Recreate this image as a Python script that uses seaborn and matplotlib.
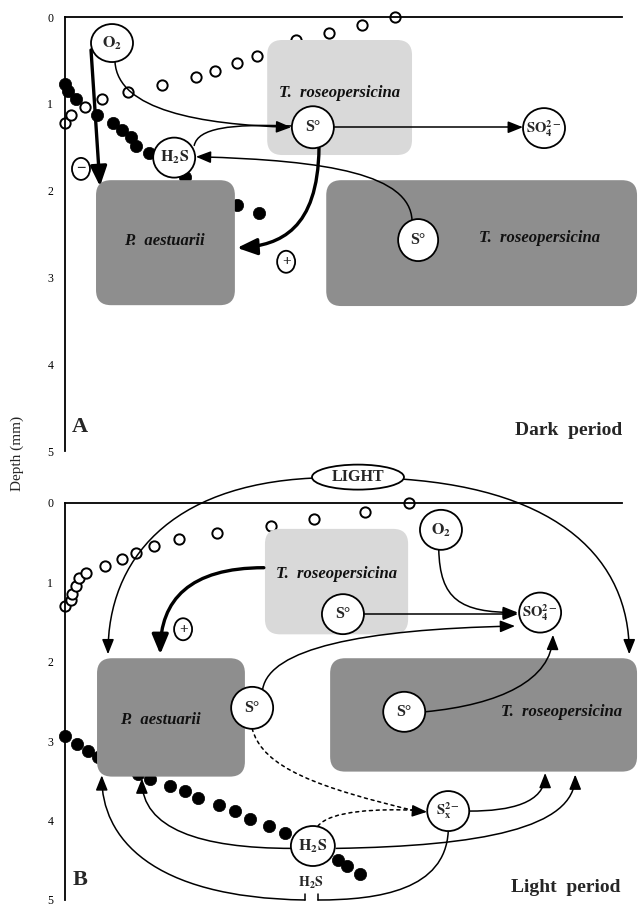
import numpy as np
import pandas as pd
import seaborn as sns
import matplotlib
matplotlib.use("Agg")
import matplotlib.pyplot as plt
from matplotlib.patches import FancyBboxPatch, Ellipse, FancyArrowPatch, ArrowStyle
from matplotlib.path import Path

# ---------------- data ----------------
depth_ticks = [0, 1, 2, 3, 4, 5]

# Panel A (dark period) profiles: x = relative concentration (0-100), y = depth (mm)
o2_dark_conc = [0, 1.1, 3.6, 6.6, 11.3, 17.4, 23.5, 26.9, 30.9, 34.5, 41.5, 47.4, 53.3, 59.2]
o2_dark_depth = [1.22, 1.13, 1.04, 0.94, 0.86, 0.78, 0.69, 0.62, 0.53, 0.45, 0.26, 0.18, 0.09, 0.0]
h2s_dark_conc = [0, 0.6, 2.0, 5.7, 8.6, 10.2, 11.8, 12.7, 15.1, 18.0, 21.5, 26.0, 30.9, 34.8]
h2s_dark_depth = [0.77, 0.85, 0.94, 1.13, 1.22, 1.30, 1.38, 1.49, 1.57, 1.67, 1.84, 2.02, 2.17, 2.26]

# Panel B (light period) profiles
o2_light_conc = [0, 1.1, 1.3, 2.0, 2.5, 3.8, 7.2, 10.2, 12.7, 15.9, 20.5, 27.3, 37.0, 44.7, 53.9, 61.8]
o2_light_depth = [1.30, 1.22, 1.14, 1.05, 0.95, 0.88, 0.79, 0.70, 0.63, 0.54, 0.45, 0.38, 0.29, 0.20, 0.11, 0.0]
h2s_light_conc = [0, 2.2, 4.1, 5.9, 8.4, 10.8, 13.1, 15.3, 18.9, 21.5, 23.9, 27.6, 30.5, 33.2,
                  36.6, 39.5, 42.2, 45.4, 49.0, 50.6, 53.0]
h2s_light_depth = [2.94, 3.03, 3.12, 3.20, 3.27, 3.35, 3.41, 3.47, 3.56, 3.63, 3.71, 3.80, 3.88, 3.98,
                   4.07, 4.15, 4.22, 4.35, 4.50, 4.57, 4.67]

panel_letters = ["A", "B"]
period_labels = ["Dark  period", "Light  period"]

# ---------------- style ----------------
sns.set_theme(style="white")
plt.rcParams["font.family"] = ["Liberation Serif", "DejaVu Serif"]
plt.rcParams["mathtext.fontset"] = "stix"

W, H = 638, 906
fig = plt.figure(figsize=(W / 100, H / 100), dpi=100)
axA = fig.add_axes([65 / W, 1 - 451 / H, 557 / W, 434 / H])
axB = fig.add_axes([65 / W, 1 - 900 / H, 557 / W, 397 / H])

LIGHTGRAY = "#d9d9d9"
DARKGRAY = "#8e8e8e"


def setup(ax):
    ax.set_xlim(0, 100)
    ax.set_ylim(5, 0)
    ax.set_yticks(depth_ticks)
    ax.set_yticklabels([str(t) for t in depth_ticks], fontsize=8.5)
    ax.set_xticks([])
    for s in ["right", "bottom"]:
        ax.spines[s].set_visible(False)
    for s in ["left", "top"]:
        ax.spines[s].set_color("black")
        ax.spines[s].set_linewidth(1.3)
    ax.tick_params(axis="y", direction="inout", length=5, width=1, pad=6, colors="black")
    ax.set_xlabel("")
    ax.set_ylabel("")
    ax.patch.set_alpha(0)


def scale(ax):
    bb = ax.get_window_extent()
    x0, x1 = ax.get_xlim()
    y0, y1 = ax.get_ylim()
    return bb.width / abs(x1 - x0), bb.height / abs(y1 - y0)


def box(ax, x0, y0, x1, y1, color, rpx=15):
    sx, sy = scale(ax)
    r = rpx / sx
    p = FancyBboxPatch((x0, y0), x1 - x0, y1 - y0,
                       boxstyle=f"round,pad=0,rounding_size={r}",
                       mutation_aspect=sx / sy, fc=color, ec="none",
                       zorder=3, clip_on=False)
    ax.add_patch(p)


def node(ax, x, y, label, wpx=42, hpx=40, fs=11.5, lw=1.3):
    sx, sy = scale(ax)
    e = Ellipse((x, y), wpx / sx, hpx / sy, fc="white", ec="black", lw=lw,
                zorder=5, clip_on=False)
    ax.add_patch(e)
    ax.text(x, y, label, ha="center", va="center", fontsize=fs, fontweight="bold",
            zorder=6, clip_on=False)


def curve(ax, pts, lw=1.1, head=True, ls="-", big=False):
    codes = {2: [Path.MOVETO, Path.LINETO],
             3: [Path.MOVETO, Path.CURVE3, Path.CURVE3],
             4: [Path.MOVETO, Path.CURVE4, Path.CURVE4, Path.CURVE4]}[len(pts)]
    if head:
        if big:
            st = ArrowStyle("-|>", head_length=12, head_width=5)
        else:
            st = ArrowStyle("-|>", head_length=9, head_width=3.6)
    else:
        st = ArrowStyle("-")
    p = FancyArrowPatch(path=Path(pts, codes), arrowstyle=st, mutation_scale=1,
                        lw=lw, color="black", linestyle=ls, zorder=4, clip_on=False)
    ax.add_patch(p)


def label(ax, x, y, txt, fs=12):
    ax.text(x, y, txt, ha="center", va="center", fontsize=fs, fontweight="bold",
            fontstyle="italic", zorder=6, clip_on=False, color="#111111")


# ---------------- profiles (seaborn) ----------------
for ax, ox, oy, hx, hy in [(axA, o2_dark_conc, o2_dark_depth, h2s_dark_conc, h2s_dark_depth),
                           (axB, o2_light_conc, o2_light_depth, h2s_light_conc, h2s_light_depth)]:
    df_o = pd.DataFrame({"conc": ox, "depth": oy})
    df_h = pd.DataFrame({"conc": hx, "depth": hy})
    sns.scatterplot(data=df_o, x="conc", y="depth", ax=ax, marker="o", s=55,
                    facecolor="white", edgecolor="black", linewidth=1.4, zorder=2, clip_on=False)
    sns.scatterplot(data=df_h, x="conc", y="depth", ax=ax, marker="o", s=78,
                    color="black", edgecolor="black", linewidth=0.5, zorder=2, clip_on=False)
    setup(ax)

# ---------------- Panel A: dark period ----------------
box(axA, 36.3, 0.265, 62.3, 1.59, LIGHTGRAY)
box(axA, 5.57, 1.88, 30.5, 3.32, DARKGRAY)
box(axA, 46.9, 1.88, 102.7, 3.33, DARKGRAY)
label(axA, 49.3, 0.876, "T.  roseopersicina")
label(axA, 17.8, 2.58, "P.  aestuarii")
label(axA, 85.2, 2.55, "T.  roseopersicina")

curve(axA, [(4.67, 0.38), (6.28, 1.95)], lw=2.4, big=True)
curve(axA, [(8.98, 0.52), (9.52, 1.07), (24.2, 1.24), (40.6, 1.27)])
curve(axA, [(23.2, 1.48), (23.9, 1.28), (29.6, 1.23), (40.6, 1.255)], head=False)
curve(axA, [(62.3, 2.34), (61.9, 1.82), (47.6, 1.65), (23.5, 1.61)])
curve(axA, [(45.6, 1.51), (45.4, 2.45), (38.6, 2.63), (30.9, 2.66)], lw=2.4, big=True)
curve(axA, [(48.3, 1.27), (82.2, 1.27)])

node(axA, 8.44, 0.30, r"$\mathbf{O_2}$", 42, 38)
node(axA, 44.5, 1.27, "S°", 42, 42)
node(axA, 86.0, 1.28, r"$\mathbf{SO_4^{2-}}$", 42, 40, fs=10.5)
node(axA, 19.6, 1.62, r"$\mathbf{H_2S}$", 42, 40)
node(axA, 63.4, 2.57, "S°", 40, 42)
node(axA, 2.87, 1.75, "−", 18, 22, fs=12)
node(axA, 39.7, 2.82, "+", 18, 22, fs=11)

axA.text(2.7, 4.72, panel_letters[0], fontsize=16, fontweight="bold", ha="center", va="center")
axA.text(90.4, 4.76, period_labels[0], fontsize=14, fontweight="bold", ha="center", va="center")

# ---------------- Panel B: light period ----------------
box(axB, 35.9, 0.326, 61.6, 1.654, LIGHTGRAY)
box(axB, 5.75, 1.955, 32.3, 3.446, DARKGRAY)
box(axB, 47.6, 1.955, 102.7, 3.383, DARKGRAY)
label(axB, 48.8, 0.90, "T.  roseopersicina")
label(axB, 17.2, 2.73, "P.  aestuarii")
label(axB, 89.2, 2.63, "T.  roseopersicina")

curve(axB, [(44.3, -0.313), (18.9, -0.225), (7.72, 0.714), (7.72, 1.905)])
curve(axB, [(60.7, -0.30), (88.8, -0.16), (101.3, 0.714), (101.3, 1.905)])
curve(axB, [(35.7, 0.815), (22.4, 0.815), (17.1, 1.22), (17.1, 1.905)], lw=2.4, big=True)
curve(axB, [(67.1, 0.58), (67.3, 1.215), (70.9, 1.38), (81.3, 1.38)])
curve(axB, [(53.7, 1.40), (81.3, 1.40)])
curve(axB, [(35.5, 2.34), (36.8, 1.84), (52.9, 1.59), (80.8, 1.55)])
curve(axB, [(64.6, 2.63), (78.1, 2.54), (87.4, 2.23), (87.6, 1.66)])
curve(axB, [(33.6, 2.84), (35.4, 3.34), (45.8, 3.59), (63.0, 3.88)], head=False, ls=(0, (2, 2.5)))
curve(axB, [(62.6, 3.878), (65.0, 3.89)])
curve(axB, [(45.4, 4.07), (47.6, 3.87), (56.5, 3.85), (63.0, 3.87)], head=False, ls=(0, (2, 2.5)))
curve(axB, [(72.7, 3.88), (79.9, 3.88), (86.2, 3.78), (86.2, 3.40)])
curve(axB, [(48.7, 4.35), (74.5, 4.32), (91.6, 4.10), (91.6, 3.42)])
curve(axB, [(40.8, 4.35), (24.2, 4.35), (13.8, 4.10), (13.8, 3.47)])
curve(axB, [(68.8, 4.14), (68.2, 4.87), (56.5, 5.0), (45.4, 5.0)], head=False)
curve(axB, [(43.1, 5.0), (15.3, 4.97), (6.6, 4.21), (6.6, 3.43)])
curve(axB, [(43.1, 4.93), (43.1, 5.0)], head=False)
curve(axB, [(45.4, 4.93), (45.4, 5.0)], head=False)

node(axB, 52.6, -0.326, "LIGHT", 92, 25, fs=11.5)
node(axB, 67.5, 0.338, r"$\mathbf{O_2}$", 42, 40)
node(axB, 49.9, 1.40, "S°", 42, 40)
node(axB, 85.3, 1.38, r"$\mathbf{SO_4^{2-}}$", 42, 40, fs=10.5)
node(axB, 33.6, 2.58, "S°", 42, 42)
node(axB, 60.9, 2.63, "S°", 42, 40)
node(axB, 68.8, 3.88, r"$\mathbf{S_x^{2-}}$", 42, 40, fs=10.5)
node(axB, 44.5, 4.32, r"$\mathbf{H_2S}$", 44, 40)
node(axB, 21.2, 1.59, "+", 18, 22, fs=11)
axB.text(44.2, 4.79, r"$\mathbf{H_2S}$", fontsize=10, ha="center", va="center", zorder=6)

axB.text(2.7, 4.75, panel_letters[1], fontsize=16, fontweight="bold", ha="center", va="center")
axB.text(89.9, 4.84, period_labels[1], fontsize=14, fontweight="bold", ha="center", va="center")

fig.text(17 / W, 1 - 453 / H, "Depth (mm)", rotation=90, ha="center", va="center", fontsize=11)

fig.savefig("out.png", dpi=100)
